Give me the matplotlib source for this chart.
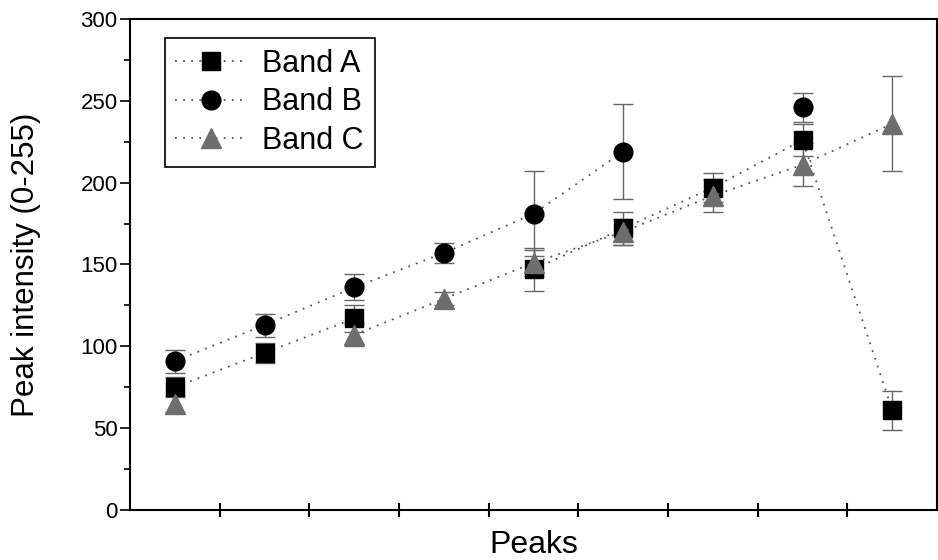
import numpy as np
import matplotlib
matplotlib.use("Agg")
import matplotlib.pyplot as plt
from matplotlib.ticker import MultipleLocator, NullFormatter

plt.rcParams['font.family'] = ['Liberation Sans', 'DejaVu Sans']

# Peak intensity per peak position (nan = no value)
peaks = np.arange(1, 10)
band_a = np.array([75, 96, 117, np.nan, 147, 172, 197, 226, 61])
band_a_err = np.array([6, 6, 8, np.nan, 13, 10, 9, 10, 12])
band_b = np.array([91, 113, 136, 157, 181, 219, np.nan, 246, np.nan])
band_b_err = np.array([7, 7, 8, 6, 26, 29, np.nan, 9, np.nan])
band_c = np.array([65, np.nan, 107, 129, 151, 170, 192, 211, 236])
band_c_err = np.array([5, np.nan, 7, 4, 8, 8, 10, 13, 29])

fig = plt.figure(figsize=(9.38, 5.6), dpi=100)
ax = fig.add_axes([0.1386, 0.0893, 0.8604, 0.8768])

line_kw = dict(linestyle=(0, (1, 3.5)), linewidth=1.3, color='#555555')
err_kw = dict(ecolor='#666666', elinewidth=1.0, capsize=7, capthick=1.0)

series = [
    (band_a, band_a_err, 's', 'black', 12.5, 'Band A'),
    (band_b, band_b_err, 'o', 'black', 13.5, 'Band B'),
    (band_c, band_c_err, '^', '#6e6e6e', 14, 'Band C'),
]
for vals, errs, mk, col, ms, lab in series:
    ax.errorbar(peaks, vals, yerr=errs, fmt='none', zorder=2, **err_kw)
    ax.plot(peaks, vals, marker=mk, markersize=ms, markerfacecolor=col,
            markeredgecolor=col, label=lab, zorder=3, **line_kw)

ax.set_xlim(0.5, 9.5)
ax.set_ylim(0, 300)
ax.set_xticks(np.arange(1.5, 9, 1))
ax.xaxis.set_major_formatter(NullFormatter())
ax.yaxis.set_major_locator(MultipleLocator(50))
ax.yaxis.set_minor_locator(MultipleLocator(25))
ax.tick_params(axis='x', direction='inout', length=10, width=1.5)
ax.tick_params(axis='y', which='major', direction='out', length=7, width=1.2, labelsize=16, pad=2)
ax.tick_params(axis='y', which='minor', direction='out', length=4, width=1.2)
for sp in ax.spines.values():
    sp.set_linewidth(1.5)

ax.set_xlabel('Peaks', fontsize=23, labelpad=6)
ax.set_ylabel('Peak intensity (0-255)', fontsize=22.5, labelpad=28)

leg = ax.legend(loc='upper left', bbox_to_anchor=(0.043, 0.961), fontsize=22,
                frameon=True, fancybox=False, edgecolor='black', framealpha=1,
                handlelength=2.3, handletextpad=0.55, labelspacing=0.28,
                borderpad=0.35, borderaxespad=0, numpoints=1)
leg.get_frame().set_linewidth(1.2)

fig.savefig('out.png', dpi=100)
